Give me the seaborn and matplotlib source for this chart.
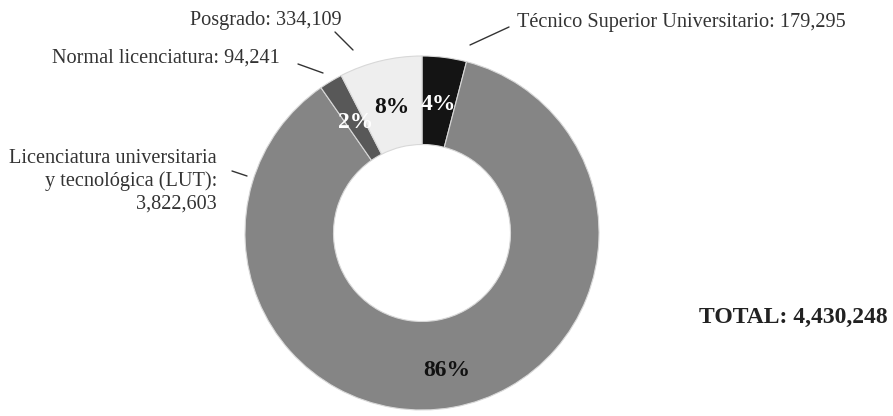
import numpy as np
import matplotlib
matplotlib.use("Agg")
import matplotlib.pyplot as plt
import seaborn as sns

# Data (clockwise from 12 o'clock)
categories = ["Técnico Superior Universitario", "Licenciatura universitaria y tecnológica (LUT)",
              "Normal licenciatura", "Posgrado"]
values = [179295, 3822603, 94241, 334109]
total = 4430248

sns.set_theme(style="white")
plt.rcParams['font.family'] = ['Liberation Serif', 'DejaVu Serif']

colors = ["#141414", "#858585", "#585858", "#eeeeee"]
pct_colors = ["white", "#111111", "white", "#111111"]

W, H = 893, 416
fig = plt.figure(figsize=(W / 100, H / 100), dpi=100)
cx, cy, R = 422, 233, 177
ax = fig.add_axes([(cx - R) / W, (H - cy - R) / H, 2 * R / W, 2 * R / H])

wedges, texts, autotexts = ax.pie(
    values, colors=colors, startangle=90, counterclock=False,
    autopct=lambda p: f"{p:.0f}%", pctdistance=0.73,
    wedgeprops=dict(width=0.5, edgecolor="#d8d8d8", linewidth=0.8),
    textprops=dict(fontsize=17, fontweight="bold"))
for t, c in zip(autotexts, pct_colors):
    t.set_color(c)
# push the large-slice label a bit outward
x, y = autotexts[1].get_position()
autotexts[1].set_position((x * 0.79 / 0.73, y * 0.79 / 0.73))
ax.set_xlim(-1, 1)
ax.set_ylim(-1, 1)
ax.set_aspect("equal")
ax.axis("off")

label_color = "#333333"
fs = 14.6

def leader(p0, p1):
    fig.add_artist(matplotlib.lines.Line2D([p0[0] / W, p1[0] / W], [(H - p0[1]) / H, (H - p1[1]) / H],
                                           color="#333333", linewidth=1.0))

fig.text(342 / W, (H - 20) / H, f"Posgrado: {values[3]:,}", ha="right", va="center",
         fontsize=fs, color=label_color)
leader((335, 32), (353, 50))

fig.text(517 / W, (H - 22) / H, f"Técnico Superior Universitario: {values[0]:,}", ha="left", va="center",
         fontsize=fs, color=label_color)
leader((470, 45), (509, 27))

fig.text(52 / W, (H - 58) / H, f"Normal licenciatura: {values[2]:,}", ha="left", va="center",
         fontsize=fs, color=label_color)
leader((298, 64), (323, 73))

fig.text(217 / W, (H - 181) / H, f"Licenciatura universitaria\ny tecnológica (LUT):\n{values[1]:,}",
         ha="right", va="center", multialignment="right", fontsize=fs, color=label_color,
         linespacing=1.25)
leader((232, 171), (247, 176))

fig.text(888 / W, (H - 317) / H, f"TOTAL: {total:,}", ha="right", va="center",
         fontsize=17, fontweight="bold", color="#222222")

fig.savefig("out.png", dpi=100, facecolor="white")
